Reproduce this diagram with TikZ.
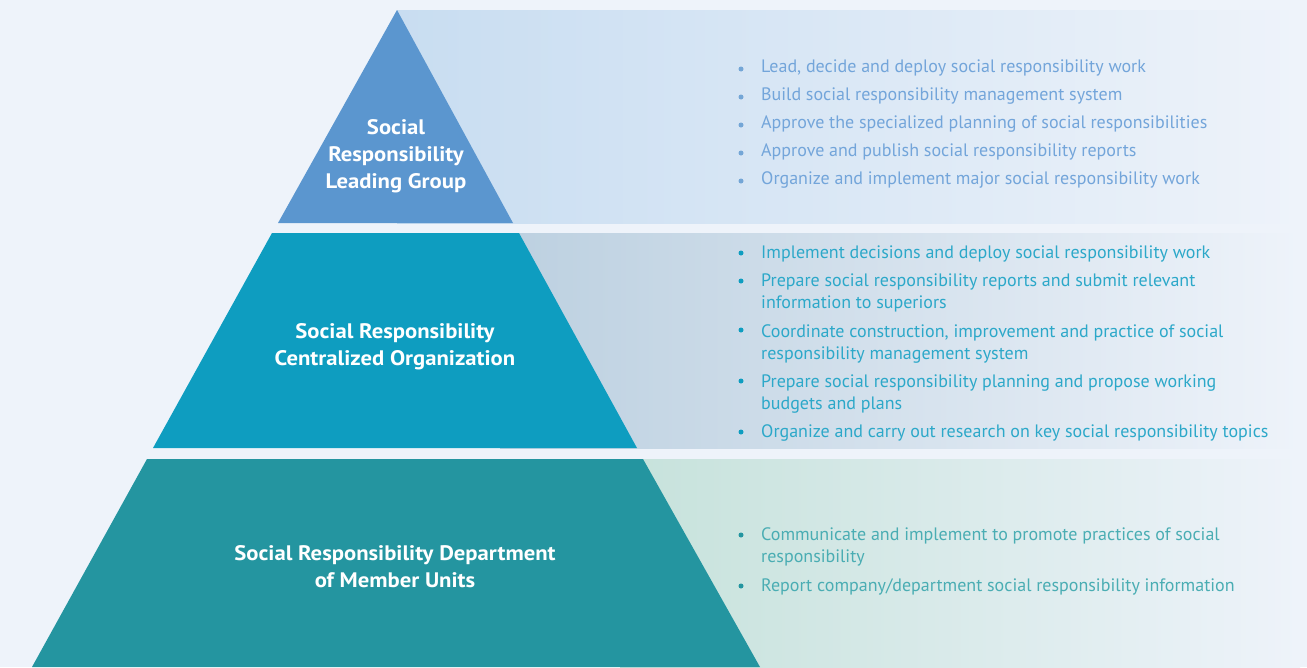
\documentclass[tikz,border=0pt]{standalone}
\usepackage{fontspec}
\setmainfont{PT Sans}
\newfontfamily\tierfont[FakeStretch=1.08]{PT Sans}
\usetikzlibrary{positioning}
\definecolor{bgcol}{HTML}{EEF3FA}
\definecolor{topcol}{HTML}{5B96CF}
\definecolor{midcol}{HTML}{0E9DC0}
\definecolor{botcol}{HTML}{2495A0}
\definecolor{topband}{HTML}{C8DDF1}
\definecolor{midband}{HTML}{BCD0E0}
\definecolor{botband}{HTML}{C6E2DB}
\definecolor{toptext}{HTML}{73A5DA}
\definecolor{midtext}{HTML}{2CA8C9}
\definecolor{bottext}{HTML}{4AADB3}

\begin{document}
\begin{tikzpicture}[x=1pt, y=-1pt,
    tier/.style={font=\tierfont\bfseries\fontsize{21}{27}\selectfont, text=white,
                 align=center},
    item/.style={anchor=west, align=left, inner sep=0pt,
                 font=\fontsize{18}{22}\selectfont},
    dot/.style={circle, inner sep=0pt, minimum size=5pt}]
    % background and bands
    \fill[bgcol] (0,0) rectangle (1307,667);
    \shade[left color=topband, right color=bgcol] (397,10) rectangle (1300,223);
    \shade[left color=midband, right color=bgcol] (500,233) rectangle (1300,448);
    \shade[left color=botband, right color=bgcol] (620,459) rectangle (1300,667);
    % pyramid
    \fill[topcol] (397,10) -- (513,223) -- (278,223) -- cycle;
    \fill[midcol] (272,233) -- (519,233) -- (637,448) -- (153,448) -- cycle;
    \fill[botcol] (147,459) -- (643,459) -- (760,667) -- (32,667) -- cycle;
    \node[tier] (lead) at (396,156) {Social\\Responsibility\\Leading Group};
    \node[tier] (central) at (395,347) {Social Responsibility\\Centralized Organization};
    \node[tier] (member) at (395,567) {Social Responsibility Department\\of Member Units};
    % top duties
    \node[item, text=toptext] (t1) at (761,68) {Lead, decide and deploy social responsibility work};
    \node[item, text=toptext] (t2) at (761,96) {Build social responsibility management system};
    \node[item, text=toptext] (t3) at (761,124) {Approve the specialized planning of social responsibilities};
    \node[item, text=toptext] (t4) at (761,152) {Approve and publish social responsibility reports};
    \node[item, text=toptext] (t5) at (761,180) {Organize and implement major social responsibility work};
    \foreach \n in {1,...,5}
      \node[dot, fill=topcol!85] (td\n) at ([xshift=-20pt,yshift=-1pt]t\n.west) {};
    % middle duties
    \node[item, text=midtext] (m1) at (761,254) {Implement decisions and deploy social responsibility work};
    \node[item, text=midtext] (m2) at (761,292.5) {Prepare social responsibility reports and submit relevant\\information to superiors};
    \node[item, text=midtext] (m3) at (761,343.5) {Coordinate construction, improvement and practice of social\\responsibility management system};
    \node[item, text=midtext] (m4) at (761,394) {Prepare social responsibility planning and propose working\\budgets and plans};
    \node[item, text=midtext] (m5) at (761,433) {Organize and carry out research on key social responsibility topics};
    \node[dot, fill=midcol] (md1) at (741,253) {};
    \node[dot, fill=midcol] (md2) at (741,281) {};
    \node[dot, fill=midcol] (md3) at (741,330) {};
    \node[dot, fill=midcol] (md4) at (741,381) {};
    \node[dot, fill=midcol] (md5) at (741,432) {};
    % bottom duties
    \node[item, text=bottext] (b1) at (761,547) {Communicate and implement to promote practices of social\\responsibility};
    \node[item, text=bottext] (b2) at (761,587) {Report company/department social responsibility information};
    \node[dot, fill=botcol] (bd1) at (741,535) {};
    \node[dot, fill=botcol] (bd2) at (741,586) {};
\end{tikzpicture}
\end{document}
